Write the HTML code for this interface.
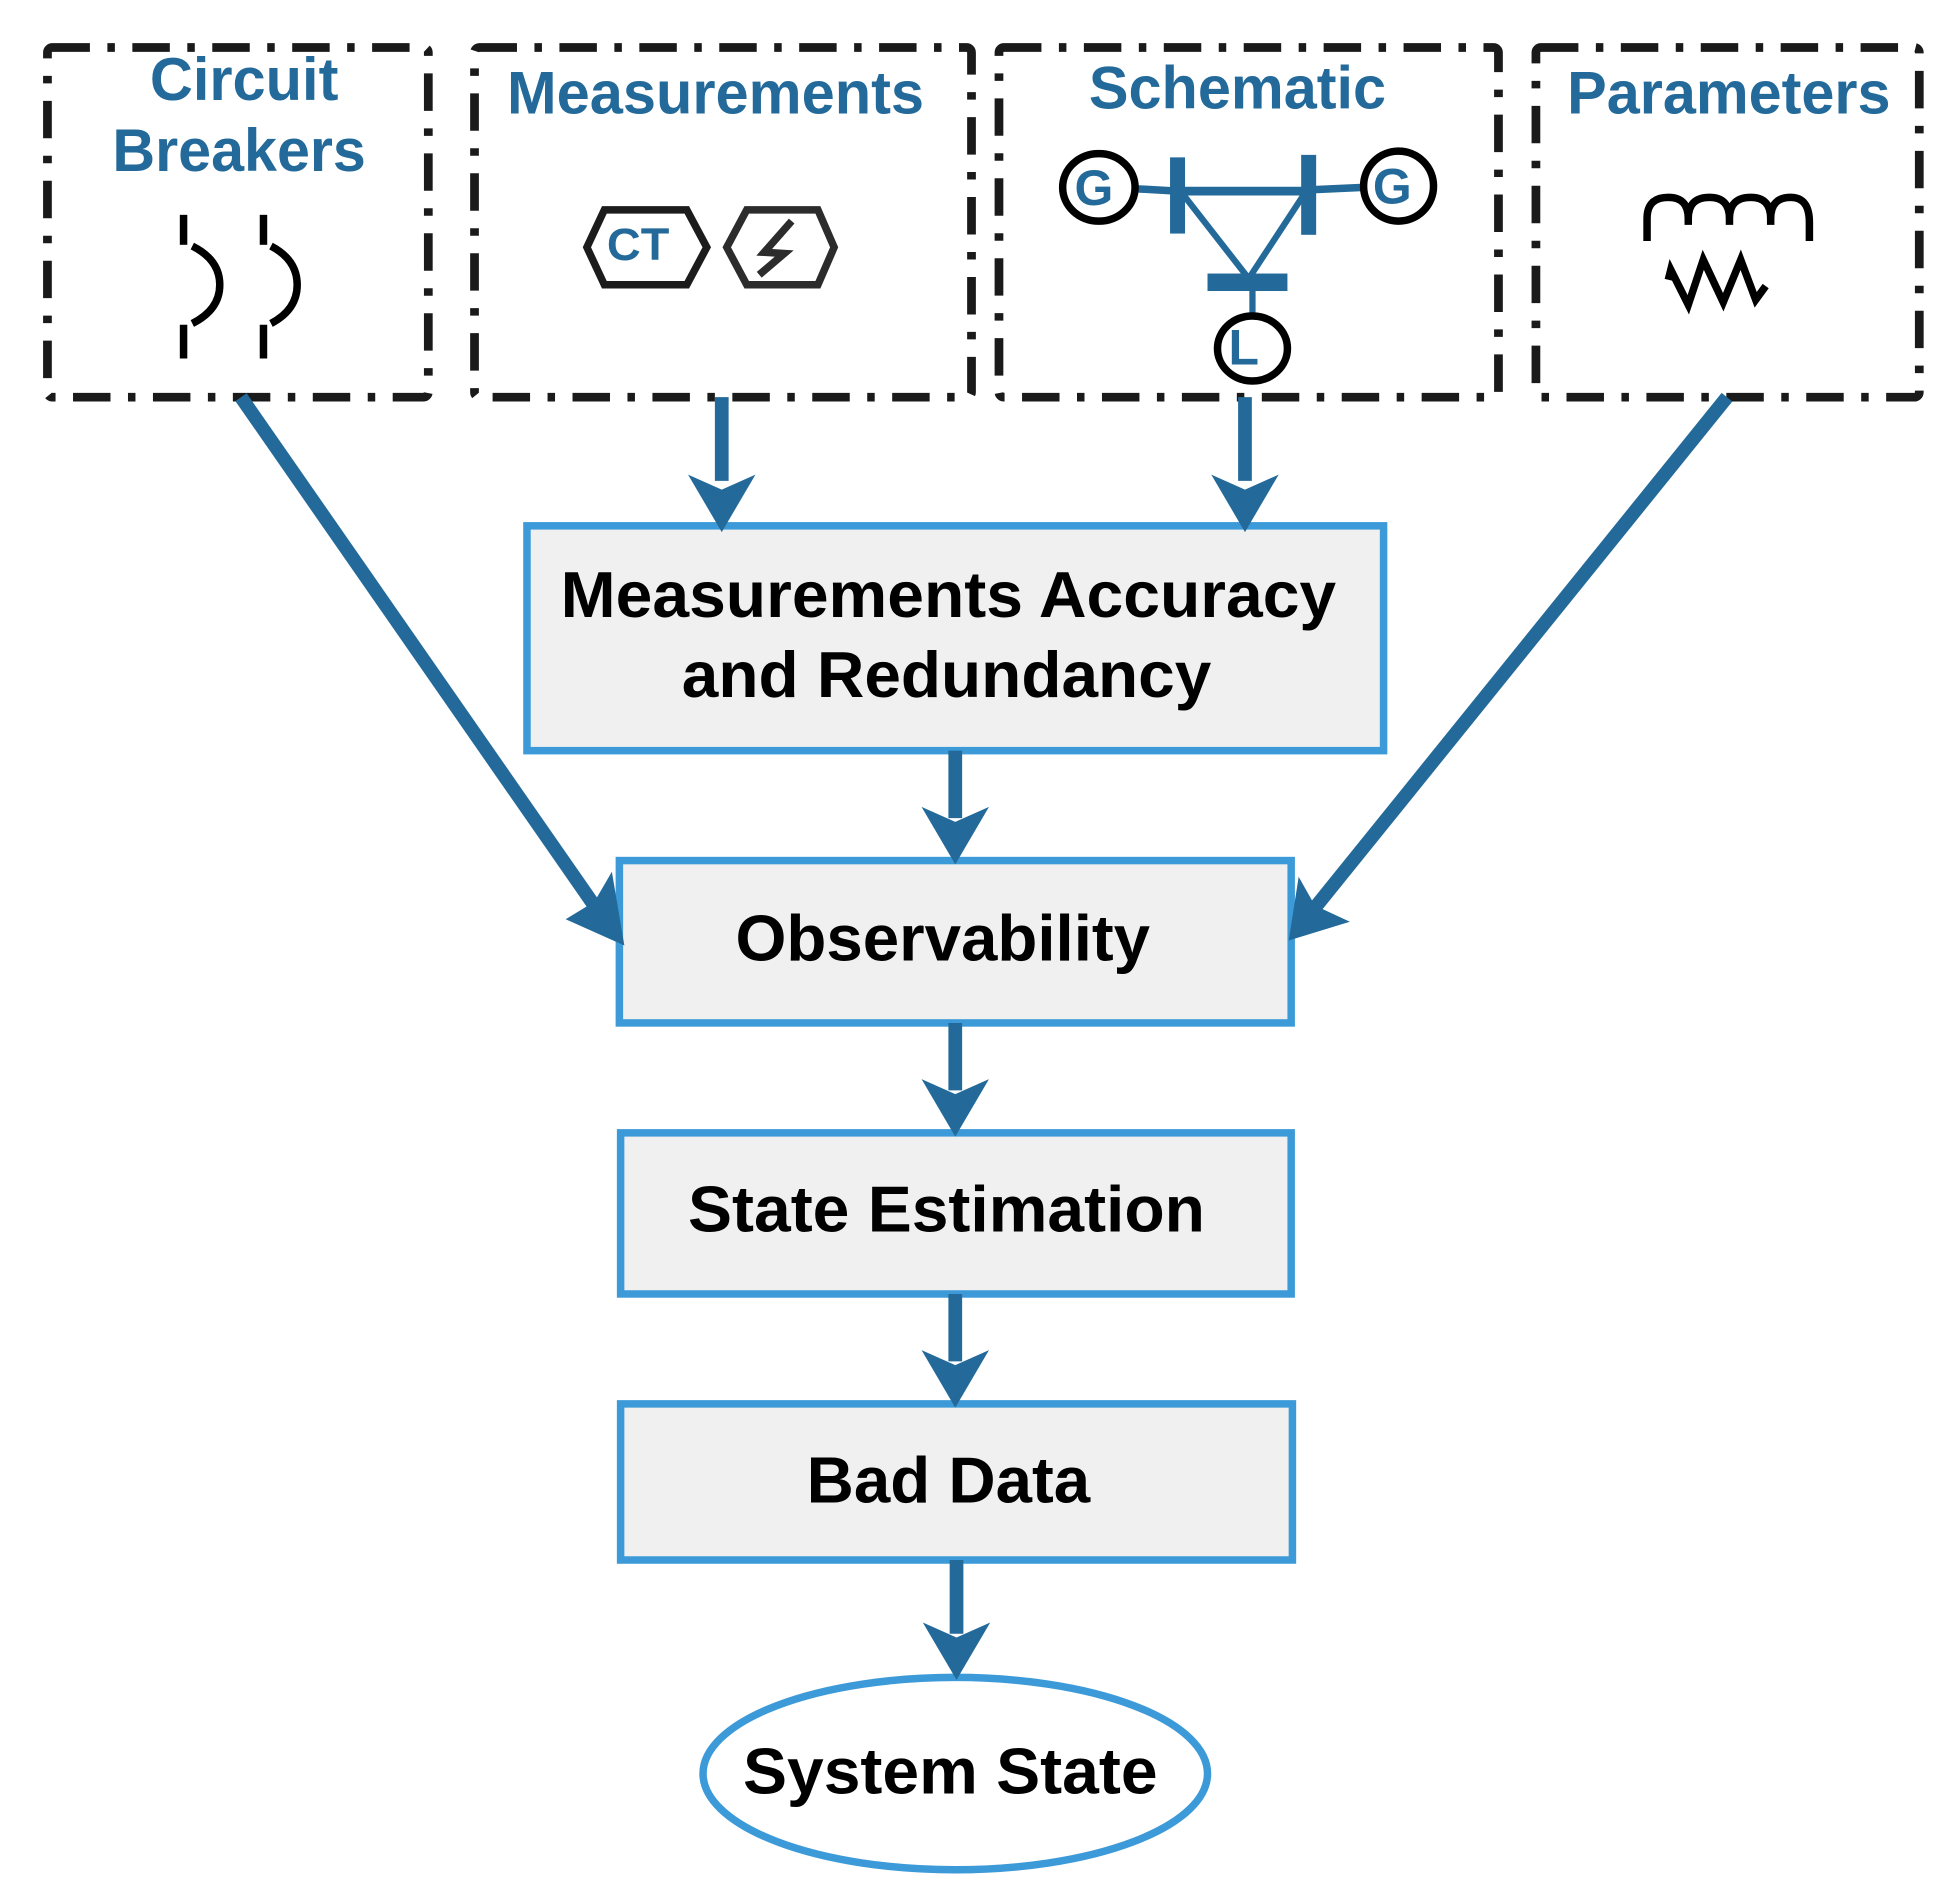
<!DOCTYPE html>
<html><head><meta charset="utf-8"><style>html,body{margin:0;padding:0;background:#fff}svg{display:block}</style></head><body>
<svg width="1948" height="1896" viewBox="0 0 1560 1518" preserveAspectRatio="none" xmlns="http://www.w3.org/2000/svg" font-family="Liberation Sans, Arial, sans-serif" font-weight="bold">
<g fill="none" stroke="#1a1a1a" stroke-width="7" stroke-dasharray="30 14 6 14">
<rect x="38" y="38" width="305" height="280" rx="4"/>
<rect x="380" y="38" width="398" height="280" rx="4"/>
<rect x="800" y="38" width="400" height="280" rx="4"/>
<rect x="1230" y="38" width="307" height="280" rx="4"/>
</g>
<g fill="#236a9a" font-size="48" lengthAdjust="spacingAndGlyphs">
<text x="120" y="80" textLength="151" lengthAdjust="spacingAndGlyphs">Circuit</text>
<text x="90" y="137" textLength="203" lengthAdjust="spacingAndGlyphs">Breakers</text>
<text x="406" y="91" textLength="334" lengthAdjust="spacingAndGlyphs">Measurements</text>
<text x="872" y="87" textLength="238" lengthAdjust="spacingAndGlyphs">Schematic</text>
<text x="1255" y="91" textLength="259" lengthAdjust="spacingAndGlyphs">Parameters</text>
</g>
<!-- circuit breaker icon -->
<g stroke="#000" stroke-width="6" fill="none">
<line x1="147" y1="172" x2="147" y2="196"/><line x1="147" y1="260" x2="147" y2="287"/>
<line x1="211" y1="172" x2="211" y2="196"/><line x1="211" y1="260" x2="211" y2="287"/>
<path d="M154 197 Q176 208 176 228 Q176 248 154 259"/>
<path d="M217 197 Q238 208 238 228 Q238 248 217 259"/>
</g>
<!-- measurement hexes -->
<polygon points="484,168 550,168 566,198 550,228 484,228 470,198" fill="none" stroke="#1c1c1c" stroke-width="6"/>
<text x="486" y="208" fill="#236a9a" font-size="36" textLength="50" lengthAdjust="spacingAndGlyphs">CT</text>
<polygon points="598,168 655,168 668,198 655,228 598,228 582,198" fill="none" stroke="#2c2c2c" stroke-width="6"/>
<path d="M634 177 L612 202 L628 203 L608 220" fill="none" stroke="#2c2c2c" stroke-width="6"/>
<!-- schematic -->
<g stroke="#236a9a" fill="none">
<line x1="907" y1="151" x2="943" y2="153" stroke-width="6"/>
<line x1="943" y1="153" x2="1048" y2="153" stroke-width="7"/>
<line x1="1048" y1="152" x2="1092" y2="150" stroke-width="6"/>
<line x1="943" y1="150" x2="1000" y2="223" stroke-width="5"/>
<line x1="1048" y1="150" x2="1000" y2="223" stroke-width="5"/>
<line x1="1003" y1="228" x2="1003" y2="254" stroke-width="5"/>
</g>
<rect x="937" y="126" width="12" height="61" fill="#236a9a"/>
<rect x="1042" y="124" width="12" height="64" fill="#236a9a"/>
<rect x="967" y="219" width="64" height="14" fill="#236a9a"/>
<ellipse cx="880" cy="150" rx="29" ry="27" fill="none" stroke="#000" stroke-width="6"/>
<ellipse cx="1120" cy="149" rx="28" ry="28" fill="none" stroke="#000" stroke-width="6"/>
<ellipse cx="1003" cy="279" rx="28" ry="26" fill="none" stroke="#000" stroke-width="6"/>
<g fill="#236a9a" font-size="40" text-anchor="middle">
<text x="876" y="164">G</text><text x="1115" y="163">G</text><text x="996" y="292">L</text>
</g>
<!-- parameters -->
<g stroke="#000" stroke-width="6" fill="none">
<path d="M1319 193 V175 Q1319 158 1336 158 Q1352 158 1352 175 V180 M1352 175 Q1352 158 1369 158 Q1385 158 1385 175 V180 M1385 175 Q1385 158 1402 158 Q1418 158 1418 175 V180 M1418 175 Q1418 158 1434 158 Q1449 158 1449 178 V193"/>
<path d="M1336 224 L1338 216 L1352 244 L1364 208 L1380 242 L1394 208 L1406 240 L1414 229"/>
</g>
<!-- main boxes -->
<g fill="#eff0ef" stroke="#3c9ad8" stroke-width="6">
<rect x="422" y="421" width="686" height="180"/>
<rect x="496" y="689" width="538" height="130"/>
<rect x="497" y="907" width="537" height="129"/>
<rect x="497" y="1124" width="538" height="125"/>
</g>
<ellipse cx="765" cy="1420" rx="202" ry="77" fill="#fff" stroke="#3c9ad8" stroke-width="6"/>
<g fill="#000" font-size="52">
<text x="449" y="494" textLength="621" lengthAdjust="spacingAndGlyphs">Measurements Accuracy</text>
<text x="546" y="558" textLength="424" lengthAdjust="spacingAndGlyphs">and Redundancy</text>
<text x="589" y="769" textLength="332" lengthAdjust="spacingAndGlyphs">Observability</text>
<text x="551" y="986" textLength="414" lengthAdjust="spacingAndGlyphs">State Estimation</text>
<text x="646" y="1203" textLength="227" lengthAdjust="spacingAndGlyphs">Bad Data</text>
<text x="595" y="1436" textLength="332" lengthAdjust="spacingAndGlyphs">System State</text>
</g>
<!-- arrows -->
<g stroke="#236a9a" stroke-width="11">
<line x1="578" y1="318" x2="578" y2="385"/>
<line x1="997" y1="318" x2="997" y2="385"/>
<line x1="765" y1="601" x2="765" y2="655"/>
<line x1="765" y1="819" x2="765" y2="873"/>
<line x1="765" y1="1036" x2="765" y2="1090"/>
<line x1="766" y1="1249" x2="766" y2="1308"/>
<line x1="193" y1="318" x2="478" y2="728"/>
<line x1="1383" y1="318" x2="1052" y2="728"/>
</g>
<g fill="#236a9a">
<polygon points="578,426 551,380 578,392 605,380"/>
<polygon points="997,426 970,380 997,392 1024,380"/>
<polygon points="765,692 738,646 765,658 792,646"/>
<polygon points="765,910 738,864 765,876 792,864"/>
<polygon points="765,1127 738,1081 765,1093 792,1081"/>
<polygon points="766,1345 739,1299 766,1311 793,1299"/>
<polygon points="500,757 453,736 476,722 490,698"/>
<polygon points="1032,753 1040,702 1053,725 1081,738"/>
</g>
</svg>
</body></html>
